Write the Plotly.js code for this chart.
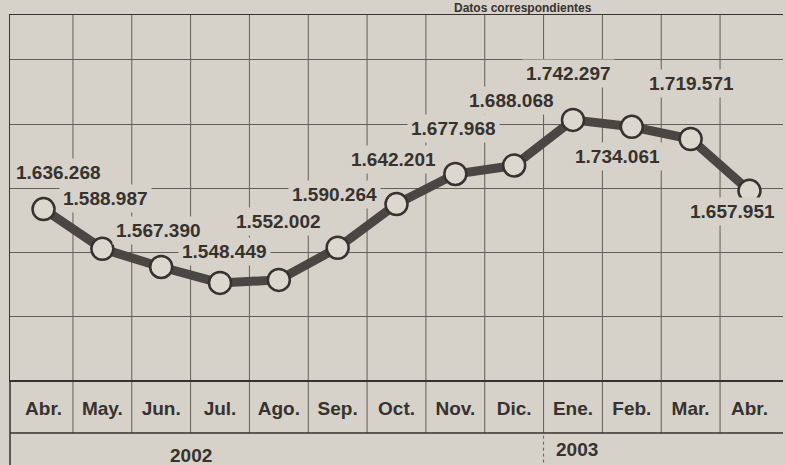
<!DOCTYPE html>
<html>
<head>
<meta charset="utf-8">
<script src="https://cdn.plot.ly/plotly-3.0.1.min.js"></script>
<style>
  html, body { margin: 0; padding: 0; background: #d6d2c9; }
  #chart { width: 786px; height: 465px; }
</style>
</head>
<body>
<div id="chart"></div>
<script>
// ---- data ----
const months = ["Abr.", "May.", "Jun.", "Jul.", "Ago.", "Sep.", "Oct.", "Nov.", "Dic.", "Ene.", "Feb.", "Mar.", "Abr."];
const values = [1636268, 1588987, 1567390, 1548449, 1552002, 1590264, 1642201, 1677968, 1688068, 1742297, 1734061, 1719571, 1657951];
const years = ["2002", "2003"];
const noteText = "Datos correspondientes";

// ---- label placement (pixel offsets from each point) ----
const labelDx = [15, 3, -3, 4, 0, -3, -3, -2, -3, -4, -14, 1, -17];
const labelDy = [37, 50, 36, 31, 58, 53, 45, 45, 65, 46, -30, 55, -21];

// ---- styles ----
const BG = "#d6d2c9";
const INK = "#35322f";
const GRID = "#635e58";
const FONT = "Liberation Sans, Arial, sans-serif";

const xIdx = months.map((_, i) => i);
const fmt = v => String(v).replace(/\B(?=(\d{3})+(?!\d))/g, ".");

const trace = {
  x: xIdx,
  y: values,
  type: "scatter",
  mode: "lines+markers",
  line: { color: "#4a4643", width: 9 },
  marker: { size: 22, color: "#dcd8cf", line: { color: INK, width: 2.5 } },
  hoverinfo: "skip",
  cliponaxis: false
};

const annotations = values.map((v, i) => ({
  x: i, y: v, xref: "x", yref: "y",
  text: fmt(v), showarrow: false,
  xshift: labelDx[i], yshift: labelDy[i],
  font: { family: FONT, size: 19, color: INK, weight: "bold" },
  bgcolor: BG, borderpad: 3
}));

const bandM = 53 / 365;   // month band height in paper units
const bandY = 85 / 365;   // month + year band height

annotations.push({
  xref: "paper", yref: "paper", x: 0.204, y: -75 / 365, yanchor: "middle",
  text: years[0], showarrow: false,
  font: { family: FONT, size: 19, color: INK, weight: "bold" }
});
annotations.push({
  xref: "paper", yref: "paper", x: 0.763, y: -70 / 365, yanchor: "middle",
  text: years[1], showarrow: false,
  font: { family: FONT, size: 19, color: INK, weight: "bold" }
});
annotations.push({
  xref: "paper", yref: "paper", x: 0.755, y: 372 / 365, yanchor: "middle",
  text: noteText, showarrow: false,
  font: { family: FONT, size: 12, color: INK, weight: "bold" }
});

const shapes = [];
for (let k = 0; k < months.length - 1; k++) {
  shapes.push({
    type: "line", layer: "below", xref: "x", yref: "paper",
    x0: k + 0.5, x1: k + 0.5, y0: -bandM, y1: 1,
    line: { color: GRID, width: 1 }
  });
}
shapes.push({ type: "line", layer: "below", xref: "paper", yref: "paper",
  x0: 0, x1: 1, y0: -bandM, y1: -bandM, line: { color: INK, width: 1.5 } });
shapes.push({ type: "line", layer: "below", xref: "paper", yref: "paper",
  x0: 0, x1: 0, y0: -bandY - 0.01, y1: 0, line: { color: INK, width: 1.5 } });
shapes.push({ type: "line", layer: "below", xref: "x", yref: "paper",
  x0: months.indexOf("Ene.") - 0.5, x1: months.indexOf("Ene.") - 0.5,
  y0: -bandY - 0.01, y1: -bandM, line: { color: GRID, width: 1, dash: "dot" } });

const layout = {
  width: 786, height: 465,
  margin: { l: 10, r: 3, t: 15, b: 85 },
  paper_bgcolor: BG, plot_bgcolor: BG,
  showlegend: false,
  xaxis: {
    range: [-0.57, 12.57],
    tickvals: xIdx, ticktext: months,
    showgrid: false, zeroline: false,
    showline: true, mirror: true, linecolor: INK, linewidth: 1.5,
    ticks: "", ticklabelstandoff: 11,
    tickfont: { family: FONT, size: 19, color: INK, weight: "bold" },
    fixedrange: true
  },
  yaxis: {
    range: [1433000, 1867000],
    tick0: 1433000, dtick: 76100,
    showticklabels: false,
    showgrid: true, gridcolor: GRID, gridwidth: 1,
    zeroline: false,
    showline: true, linecolor: INK, linewidth: 1.5,
    ticks: "", fixedrange: true
  },
  annotations: annotations,
  shapes: shapes
};

Plotly.newPlot("chart", [trace], layout, { displayModeBar: false, staticPlot: true });
</script>
</body>
</html>
